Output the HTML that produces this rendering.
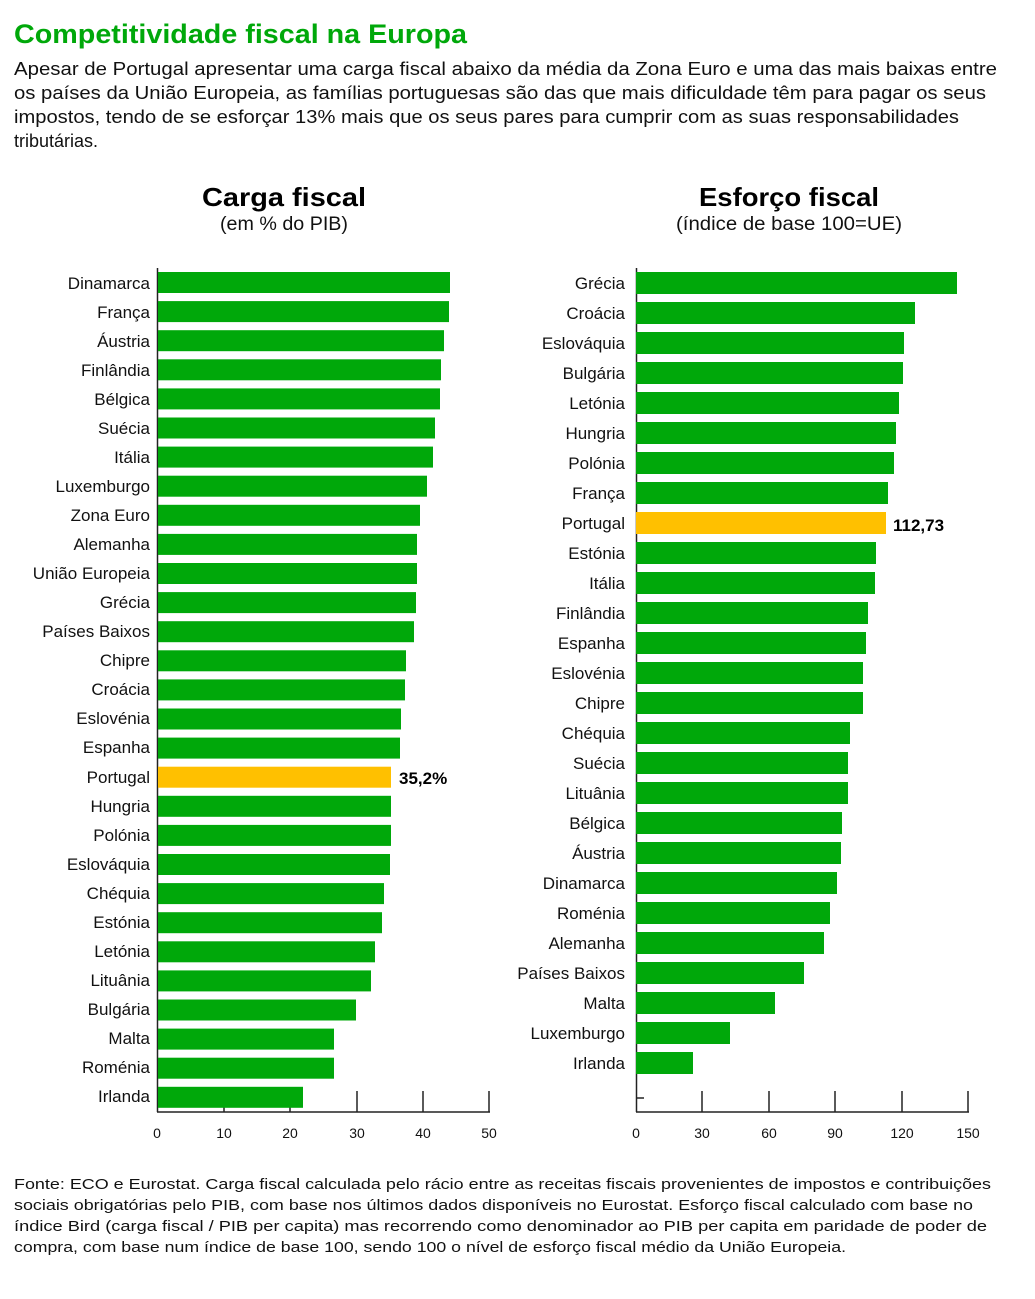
<!DOCTYPE html>
<html><head><meta charset="utf-8"><style>
html,body{margin:0;padding:0;background:#fff;}
svg{display:block;font-family:"Liberation Sans",sans-serif;}
</style></head><body>
<svg width="1035" height="1299" viewBox="0 0 1035 1299">
<text x="14" y="43" font-size="27" font-weight="bold" fill="#00a80a" textLength="453" lengthAdjust="spacingAndGlyphs">Competitividade fiscal na Europa</text>
<g font-size="18" fill="#111">
<text x="14" y="75" textLength="983" lengthAdjust="spacingAndGlyphs">Apesar de Portugal apresentar uma carga fiscal abaixo da média da Zona Euro e uma das mais baixas entre</text>
<text x="14" y="99" textLength="972" lengthAdjust="spacingAndGlyphs">os países da União Europeia, as famílias portuguesas são das que mais dificuldade têm para pagar os seus</text>
<text x="14" y="123" textLength="945" lengthAdjust="spacingAndGlyphs">impostos, tendo de se esforçar 13% mais que os seus pares para cumprir com as suas responsabilidades</text>
<text x="14" y="147">tributárias.</text>
</g>
<text x="284" y="206" font-size="26" font-weight="bold" text-anchor="middle" fill="#000" textLength="164" lengthAdjust="spacingAndGlyphs">Carga fiscal</text>
<text x="284" y="230" font-size="19" text-anchor="middle" fill="#111" textLength="128" lengthAdjust="spacingAndGlyphs">(em % do PIB)</text>
<text x="789" y="206" font-size="26" font-weight="bold" text-anchor="middle" fill="#000" textLength="180" lengthAdjust="spacingAndGlyphs">Esforço fiscal</text>
<text x="789" y="230" font-size="19" text-anchor="middle" fill="#111" textLength="226" lengthAdjust="spacingAndGlyphs">(índice de base 100=UE)</text>

<g stroke="#222" stroke-width="1.5">
<line x1="157.5" y1="268" x2="157.5" y2="1112"/>
<line x1="157" y1="1112" x2="490" y2="1112"/>
<line x1="224" y1="1091" x2="224" y2="1112"/><line x1="290" y1="1091" x2="290" y2="1112"/><line x1="357" y1="1091" x2="357" y2="1112"/><line x1="423" y1="1091" x2="423" y2="1112"/><line x1="489" y1="1091" x2="489" y2="1112"/>
</g>
<g fill="#00a80a">
<rect x="158" y="272" width="292" height="21"/>
<rect x="158" y="301.1" width="291" height="21"/>
<rect x="158" y="330.2" width="286" height="21"/>
<rect x="158" y="359.3" width="283" height="21"/>
<rect x="158" y="388.4" width="282" height="21"/>
<rect x="158" y="417.5" width="277" height="21"/>
<rect x="158" y="446.6" width="275" height="21"/>
<rect x="158" y="475.7" width="269" height="21"/>
<rect x="158" y="504.8" width="262" height="21"/>
<rect x="158" y="533.9" width="259" height="21"/>
<rect x="158" y="563" width="259" height="21"/>
<rect x="158" y="592.1" width="258" height="21"/>
<rect x="158" y="621.2" width="256" height="21"/>
<rect x="158" y="650.3" width="248" height="21"/>
<rect x="158" y="679.4" width="247" height="21"/>
<rect x="158" y="708.5" width="243" height="21"/>
<rect x="158" y="737.6" width="242" height="21"/>
<rect x="158" y="766.7" width="233" height="21" fill="#ffc000"/>
<rect x="158" y="795.8" width="233" height="21"/>
<rect x="158" y="824.9" width="233" height="21"/>
<rect x="158" y="854" width="232" height="21"/>
<rect x="158" y="883.1" width="226" height="21"/>
<rect x="158" y="912.2" width="224" height="21"/>
<rect x="158" y="941.3" width="217" height="21"/>
<rect x="158" y="970.4" width="213" height="21"/>
<rect x="158" y="999.5" width="198" height="21"/>
<rect x="158" y="1028.6" width="176" height="21"/>
<rect x="158" y="1057.7" width="176" height="21"/>
<rect x="158" y="1086.8" width="145" height="21"/>
</g>
<g font-size="17" fill="#111" text-anchor="end">
<text x="150" y="289">Dinamarca</text><text x="150" y="318">França</text><text x="150" y="347">Áustria</text><text x="150" y="376">Finlândia</text><text x="150" y="405">Bélgica</text><text x="150" y="434">Suécia</text><text x="150" y="463">Itália</text><text x="150" y="492">Luxemburgo</text><text x="150" y="521">Zona Euro</text><text x="150" y="550">Alemanha</text><text x="150" y="579">União Europeia</text><text x="150" y="608">Grécia</text><text x="150" y="637">Países Baixos</text><text x="150" y="666">Chipre</text><text x="150" y="695">Croácia</text><text x="150" y="724">Eslovénia</text><text x="150" y="753">Espanha</text><text x="150" y="783">Portugal</text><text x="150" y="812">Hungria</text><text x="150" y="841">Polónia</text><text x="150" y="870">Eslováquia</text><text x="150" y="899">Chéquia</text><text x="150" y="928">Estónia</text><text x="150" y="957">Letónia</text><text x="150" y="986">Lituânia</text><text x="150" y="1015">Bulgária</text><text x="150" y="1044">Malta</text><text x="150" y="1073">Roménia</text><text x="150" y="1102">Irlanda</text>
</g>
<text x="399" y="784" font-size="17" font-weight="bold" fill="#000">35,2%</text>
<g font-size="14" fill="#111" text-anchor="middle">
<text x="157" y="1138">0</text><text x="224" y="1138">10</text><text x="290" y="1138">20</text><text x="357" y="1138">30</text><text x="423" y="1138">40</text><text x="489" y="1138">50</text>
</g>

<g stroke="#222" stroke-width="1.5">
<line x1="636.5" y1="268" x2="636.5" y2="1112"/>
<line x1="636" y1="1112" x2="969" y2="1112"/>
<line x1="636" y1="1098" x2="644" y2="1098"/>
<line x1="702" y1="1091" x2="702" y2="1112"/><line x1="769" y1="1091" x2="769" y2="1112"/><line x1="835" y1="1091" x2="835" y2="1112"/><line x1="902" y1="1091" x2="902" y2="1112"/><line x1="968" y1="1091" x2="968" y2="1112"/>
</g>
<g fill="#00a80a">
<rect x="636" y="272" width="321" height="22"/>
<rect x="636" y="302" width="279" height="22"/>
<rect x="636" y="332" width="268" height="22"/>
<rect x="636" y="362" width="267" height="22"/>
<rect x="636" y="392" width="263" height="22"/>
<rect x="636" y="422" width="260" height="22"/>
<rect x="636" y="452" width="258" height="22"/>
<rect x="636" y="482" width="252" height="22"/>
<rect x="636" y="512" width="250" height="22" fill="#ffc000"/>
<rect x="636" y="542" width="240" height="22"/>
<rect x="636" y="572" width="239" height="22"/>
<rect x="636" y="602" width="232" height="22"/>
<rect x="636" y="632" width="230" height="22"/>
<rect x="636" y="662" width="227" height="22"/>
<rect x="636" y="692" width="227" height="22"/>
<rect x="636" y="722" width="214" height="22"/>
<rect x="636" y="752" width="212" height="22"/>
<rect x="636" y="782" width="212" height="22"/>
<rect x="636" y="812" width="206" height="22"/>
<rect x="636" y="842" width="205" height="22"/>
<rect x="636" y="872" width="201" height="22"/>
<rect x="636" y="902" width="194" height="22"/>
<rect x="636" y="932" width="188" height="22"/>
<rect x="636" y="962" width="168" height="22"/>
<rect x="636" y="992" width="139" height="22"/>
<rect x="636" y="1022" width="94" height="22"/>
<rect x="636" y="1052" width="57" height="22"/>
</g>
<g font-size="17" fill="#111" text-anchor="end">
<text x="625" y="289">Grécia</text><text x="625" y="319">Croácia</text><text x="625" y="349">Eslováquia</text><text x="625" y="379">Bulgária</text><text x="625" y="409">Letónia</text><text x="625" y="439">Hungria</text><text x="625" y="469">Polónia</text><text x="625" y="499">França</text><text x="625" y="529">Portugal</text><text x="625" y="559">Estónia</text><text x="625" y="589">Itália</text><text x="625" y="619">Finlândia</text><text x="625" y="649">Espanha</text><text x="625" y="679">Eslovénia</text><text x="625" y="709">Chipre</text><text x="625" y="739">Chéquia</text><text x="625" y="769">Suécia</text><text x="625" y="799">Lituânia</text><text x="625" y="829">Bélgica</text><text x="625" y="859">Áustria</text><text x="625" y="889">Dinamarca</text><text x="625" y="919">Roménia</text><text x="625" y="949">Alemanha</text><text x="625" y="979">Países Baixos</text><text x="625" y="1009">Malta</text><text x="625" y="1039">Luxemburgo</text><text x="625" y="1069">Irlanda</text>
</g>
<text x="893" y="531" font-size="17" font-weight="bold" fill="#000">112,73</text>
<g font-size="14" fill="#111" text-anchor="middle">
<text x="636" y="1138">0</text><text x="702" y="1138">30</text><text x="769" y="1138">60</text><text x="835" y="1138">90</text><text x="902" y="1138">120</text><text x="968" y="1138">150</text>
</g>

<g font-size="15" fill="#111">
<text x="14" y="1189" textLength="977" lengthAdjust="spacingAndGlyphs">Fonte: ECO e Eurostat. Carga fiscal calculada pelo rácio entre as receitas fiscais provenientes de impostos e contribuições</text>
<text x="14" y="1210" textLength="959" lengthAdjust="spacingAndGlyphs">sociais obrigatórias pelo PIB, com base nos últimos dados disponíveis no Eurostat. Esforço fiscal calculado com base no</text>
<text x="14" y="1231" textLength="973" lengthAdjust="spacingAndGlyphs">índice Bird (carga fiscal / PIB per capita) mas recorrendo como denominador ao PIB per capita em paridade de poder de</text>
<text x="14" y="1252" textLength="832" lengthAdjust="spacingAndGlyphs">compra, com base num índice de base 100, sendo 100 o nível de esforço fiscal médio da União Europeia.</text>
</g>
</svg>
</body></html>
